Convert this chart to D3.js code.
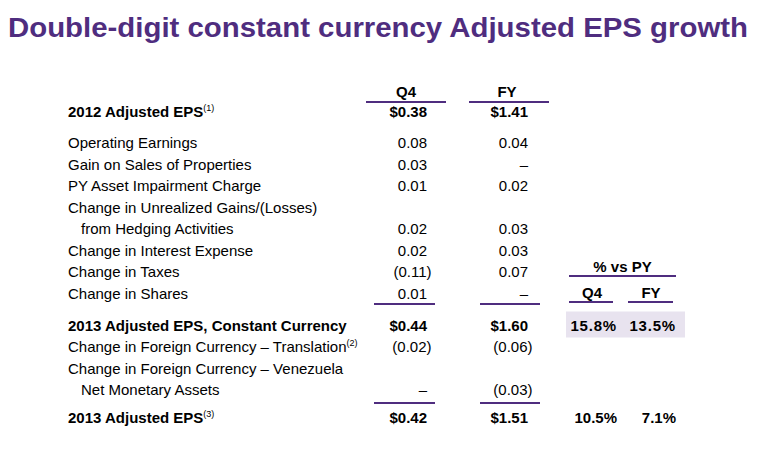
<!DOCTYPE html>
<html>
<head>
<meta charset="utf-8">
<script src="https://cdn.jsdelivr.net/npm/d3@7/dist/d3.min.js"></script>
<style>
  html, body { margin: 0; padding: 0; background: #fff; }
  svg { display: block; font-family: "Liberation Sans", Arial, sans-serif; }
</style>
</head>
<body>
<svg id="chart" width="764" height="462"></svg>
<script>
// ---- data ----
const title = "Double-digit constant currency Adjusted EPS growth";
const rowLabels = [
  "2012 Adjusted EPS",
  "Operating Earnings",
  "Gain on Sales of Properties",
  "PY Asset Impairment Charge",
  "Change in Unrealized Gains/(Losses)",
  "from Hedging Activities",
  "Change in Interest Expense",
  "Change in Taxes",
  "Change in Shares",
  "2013 Adjusted EPS, Constant Currency",
  "Change in Foreign Currency \u2013 Translation",
  "Change in Foreign Currency \u2013 Venezuela",
  "Net Monetary Assets",
  "2013 Adjusted EPS"
];
const footnotes = ["(1)", "", "", "", "", "", "", "", "", "", "(2)", "", "", "(3)"];
const boldRows = [0, 9, 13];
const indentRows = [5, 12];
// null = no value shown, 0 = dash
const q4Values = [0.38, 0.08, 0.03, 0.01, null, 0.02, 0.02, -0.11, 0.01, 0.44, -0.02, null, 0, 0.42];
const fyValues = [1.41, 0.04, 0, 0.02, null, 0.03, 0.03, 0.07, 0, 1.60, -0.06, null, -0.03, 1.51];
const columnHeaders = ["Q4", "FY"];
const pctHeader = "% vs PY";
const pctRows = [9, 13];
const pctQ4 = [15.8, 10.5];
const pctFY = [13.5, 7.1];

// ---- layout ----
const purple = "#4F2D7F";
const svg = d3.select("#chart");

// Title, fitted to its span
const titleSel = svg.append("text")
  .attr("x", 8).attr("y", 37)
  .attr("font-weight", "bold")
  .attr("font-size", 27)
  .attr("fill", purple)
  .text(title);
const tw = titleSel.node().getComputedTextLength();
titleSel.attr("textLength", 740).attr("lengthAdjust", "spacingAndGlyphs");

// Row positions: linear slot scale with extra gaps before section rows
const extraGap = {1: 9.5, 9: 10.5, 13: 6.5};
const rowStep = 21.5;
const slot = [];
let acc = 0;
rowLabels.forEach((_, i) => { acc += (i > 0 ? 1 : 0) + (extraGap[i] || 0) / rowStep; slot.push(acc); });
const y = d3.scaleLinear().domain([0, 1]).range([117, 117 + rowStep]);

// Columns (right edges of numbers)
const x = d3.scaleOrdinal().domain(["label", "Q4", "FY", "pQ4", "pFY"]).range([68, 427, 528, 617, 676]);

const fmtNum = d3.format(".2f");
function fmtVal(v, bold) {
  if (v === null) return "";
  if (v === 0) return "\u2013";
  const s = fmtNum(Math.abs(v));
  if (v < 0) return "(" + s + ")";
  return bold ? "$" + s : s;
}

// Shaded box behind constant-currency percentages
svg.append("rect")
  .attr("x", x("pQ4") - 51).attr("y", y(slot[9]) - 19)
  .attr("width", 119).attr("height", 26)
  .attr("fill", "#E8E3EF");

// Labels
const labels = svg.append("g").selectAll("text")
  .data(rowLabels).join("text")
  .attr("x", (d, i) => x("label") + (indentRows.includes(i) ? 13 : 0))
  .attr("y", (d, i) => y(slot[i]))
  .attr("font-size", 15)
  .attr("font-weight", (d, i) => boldRows.includes(i) ? "bold" : "normal")
  .attr("fill", "#000");
labels.append("tspan").text(d => d);
labels.append("tspan")
  .attr("font-size", 9).attr("font-weight", "normal").attr("dy", -6)
  .text((d, i) => footnotes[i]);

// Numeric columns
function drawCol(key, values) {
  svg.append("g").selectAll("text")
    .data(values).join("text")
    .attr("x", d => x(key) + (d !== null && d < 0 ? 4.5 : 0))
    .attr("y", (d, i) => y(slot[i]))
    .attr("text-anchor", "end")
    .attr("font-size", 15)
    .attr("font-weight", (d, i) => boldRows.includes(i) ? "bold" : "normal")
    .attr("fill", "#000")
    .text((d, i) => fmtVal(d, boldRows.includes(i)));
}
drawCol("Q4", q4Values);
drawCol("FY", fyValues);

// Column headers
svg.append("g").selectAll("text")
  .data(columnHeaders).join("text")
  .attr("x", d => x(d) - 21)
  .attr("y", 97)
  .attr("text-anchor", "middle")
  .attr("font-size", 15).attr("font-weight", "bold")
  .text(d => d);

// Header rules and subtotal rules
const lineSpecs = [
  {x1: x("Q4") - 61, x2: x("Q4") + 19, y: 102},
  {x1: x("FY") - 59, x2: x("FY") + 21, y: 102},
  {x1: x("Q4") - 53, x2: x("Q4") + 8, y: y(slot[8]) + 5.5},
  {x1: x("FY") - 48, x2: x("FY") + 12, y: y(slot[8]) + 5.5},
  {x1: x("Q4") - 53, x2: x("Q4") + 8, y: y(slot[12]) + 8},
  {x1: x("FY") - 48, x2: x("FY") + 12, y: y(slot[12]) + 8},
  {x1: x("pQ4") - 48, x2: x("pFY"), y: 276},
  {x1: x("pQ4") - 48, x2: x("pQ4") - 4, y: 302},
  {x1: x("pFY") - 48, x2: x("pFY") - 3, y: 302}
];
svg.append("g").selectAll("line")
  .data(lineSpecs).join("line")
  .attr("x1", d => d.x1).attr("x2", d => d.x2)
  .attr("y1", d => d.y).attr("y2", d => d.y)
  .attr("stroke", purple).attr("stroke-width", 2.2);

// % vs PY headers
svg.append("text")
  .attr("x", (x("pQ4") - 48 + x("pFY")) / 2).attr("y", 272)
  .attr("text-anchor", "middle")
  .attr("font-size", 15).attr("font-weight", "bold")
  .text(pctHeader);
svg.append("g").selectAll("text")
  .data(columnHeaders).join("text")
  .attr("x", d => x("p" + d) - 25)
  .attr("y", 298)
  .attr("text-anchor", "middle")
  .attr("font-size", 15).attr("font-weight", "bold")
  .text(d => d);

// Percentages
const pctFmt = d3.format(".1f");
["pQ4", "pFY"].forEach((key, k) => {
  const vals = k === 0 ? pctQ4 : pctFY;
  svg.append("g").selectAll("text")
    .data(vals).join("text")
    .attr("x", x(key))
    .attr("y", (d, i) => y(slot[pctRows[i]]))
    .attr("text-anchor", "end")
    .attr("font-size", 15).attr("font-weight", "bold")
    .attr("letter-spacing", (d, i) => i === 0 ? 0.8 : 0)
    .text(d => pctFmt(d) + "%");
});
</script>
</body>
</html>
